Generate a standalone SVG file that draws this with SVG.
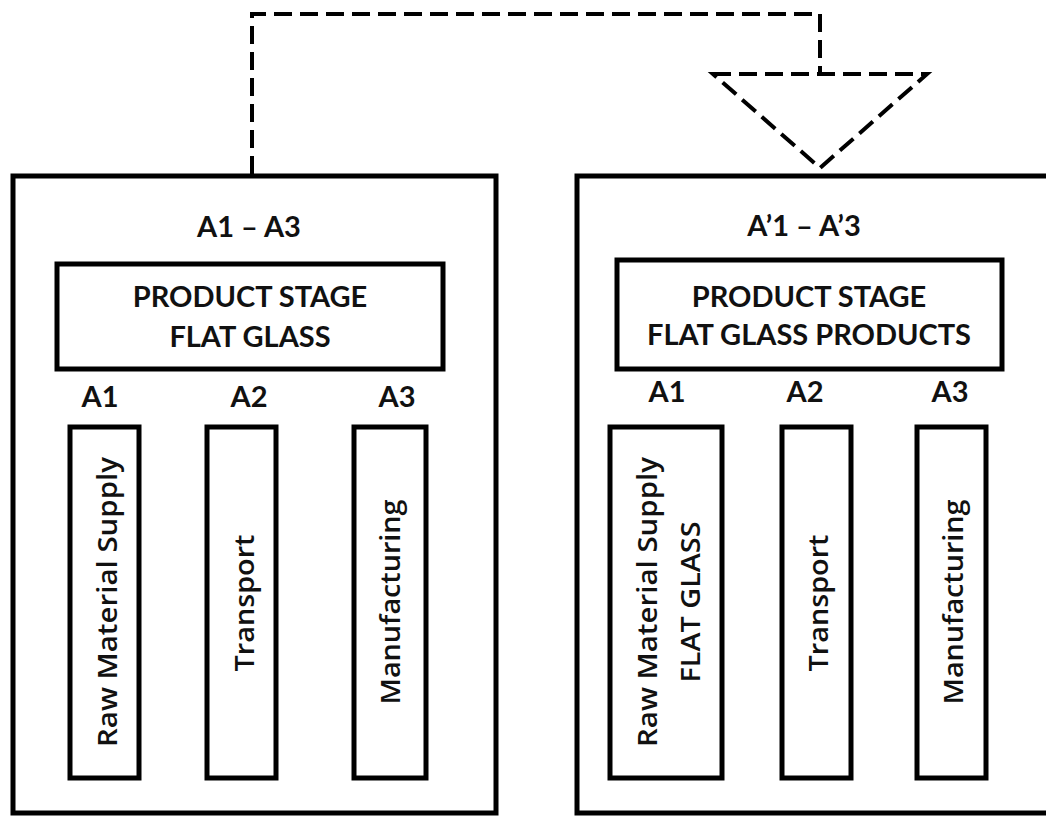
<svg xmlns="http://www.w3.org/2000/svg" width="1046" height="816" viewBox="0 0 1046 816">
  <style>
    .box { fill: #fff; stroke: #000; stroke-width: 5; }
    .dash { fill: none; stroke: #000; stroke-width: 4; stroke-dasharray: 18 8; }
    .hd { font-family: Lato, "Open Sans", sans-serif; font-weight: bold; font-size: 29px; fill: #111; text-anchor: middle; }
    .vt { font-family: "Open Sans", Lato, sans-serif; font-weight: 600; font-size: 27px; fill: #111; text-anchor: middle; }
  </style>
  <rect width="1046" height="816" fill="#fff"/>

  <!-- Connector: dashed route from A1–A3 into the triangle above A'1–A'3 -->
  <g id="connectors">
    <polyline class="dash" points="252,174 252,14 820,14 820,74"/>
    <polygon class="dash" points="713,74 927,74 820,168"/>
  </g>

  <!-- Left module A1 – A3 -->
  <g id="module-a1-a3">
    <rect class="box" x="13" y="176" width="483" height="637"/>
    <text class="hd" x="249" y="237">A1 – A3</text>
    <rect class="box" x="57" y="264" width="386" height="105"/>
    <text class="hd" x="250" y="307">PRODUCT STAGE</text>
    <text class="hd" x="250" y="347">FLAT GLASS</text>
    <text class="hd" x="100" y="407">A1</text>
    <text class="hd" x="249" y="407">A2</text>
    <text class="hd" x="397" y="407">A3</text>
  </g>
  <g id="left-a1">
    <rect class="box" x="70" y="427" width="69" height="351"/>
    <text class="vt" transform="translate(117,602) rotate(-90)" textLength="290" lengthAdjust="spacingAndGlyphs">Raw Material Supply</text>
  </g>
  <g id="left-a2">
    <rect class="box" x="207" y="427" width="69" height="351"/>
    <text class="vt" transform="translate(254,603) rotate(-90)" textLength="137" lengthAdjust="spacingAndGlyphs">Transport</text>
  </g>
  <g id="left-a3">
    <rect class="box" x="354" y="427" width="72" height="351"/>
    <text class="vt" transform="translate(400,602) rotate(-90)" textLength="205" lengthAdjust="spacingAndGlyphs">Manufacturing</text>
  </g>

  <!-- Right module A'1 – A'3 -->
  <g id="module-a1p-a3p">
    <rect class="box" x="577" y="176" width="480" height="637"/>
    <text class="hd" x="804" y="236">A’1 – A’3</text>
    <rect class="box" x="617" y="260" width="385" height="109"/>
    <text class="hd" x="809" y="307">PRODUCT STAGE</text>
    <text class="hd" x="809" y="345">FLAT GLASS PRODUCTS</text>
    <text class="hd" x="667" y="402">A1</text>
    <text class="hd" x="805" y="402">A2</text>
    <text class="hd" x="950" y="402">A3</text>
  </g>
  <g id="right-a1">
    <rect class="box" x="610" y="427" width="112" height="351"/>
    <text class="vt" transform="translate(657,602) rotate(-90)" textLength="290" lengthAdjust="spacingAndGlyphs">Raw Material Supply</text>
    <text class="vt" transform="translate(700,602) rotate(-90)" textLength="161" lengthAdjust="spacingAndGlyphs">FLAT GLASS</text>
  </g>
  <g id="right-a2">
    <rect class="box" x="782" y="427" width="69" height="351"/>
    <text class="vt" transform="translate(828,603) rotate(-90)" textLength="137" lengthAdjust="spacingAndGlyphs">Transport</text>
  </g>
  <g id="right-a3">
    <rect class="box" x="917" y="427" width="69" height="351"/>
    <text class="vt" transform="translate(963,602) rotate(-90)" textLength="205" lengthAdjust="spacingAndGlyphs">Manufacturing</text>
  </g>
</svg>
